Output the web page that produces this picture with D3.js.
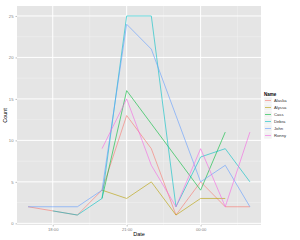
<!DOCTYPE html>
<html>
<head>
<meta charset="utf-8">
<script src="https://cdn.jsdelivr.net/npm/d3@7"></script>
<style>
  body { margin: 0; background: #fff; }
  svg { font-family: "Liberation Sans", Arial, sans-serif; }
</style>
</head>
<body>
<svg id="chart" width="300" height="240"></svg>
<script>
// hours are offsets from 2013-01-01 00:00 (17 = 17:00, 26 = 02:00 next day)
var names = ["Alaska", "Alyssa", "Cass", "Debra", "John", "Ronny"];
var colours = ["#F8766D", "#B79F00", "#00BA38", "#00BFC4", "#619CFF", "#F564E3"];

var alaskaHours = [17, 19, 20, 21, 22, 23, 24, 25, 26];
var alaskaCounts = [2, 1, 4, 13, 9, 1, 5, 2, 2];
var alyssaHours = [20, 21, 22, 23, 24, 25];
var alyssaCounts = [4, 3, 5, 1, 3, 3];
var cassHours = [20, 21, 22, 23, 24, 25];
var cassCounts = [3, 16, 12, 8, 4, 11];
var debraHours = [18, 19, 20, 21, 22, 23, 24, 25, 26];
var debraCounts = [1.5, 1, 3, 25, 25, 2, 8, 9, 5];
var johnHours = [17, 18, 19, 20, 21, 22, 23, 24, 25, 26];
var johnCounts = [2, 2, 2, 4, 24, 21, 13, 5, 7, 2];
var ronnyHours = [20, 21, 22, 23, 24, 25, 26];
var ronnyCounts = [9, 15, 7, 2, 9, 2, 11];

var yTicks = [0, 5, 10, 15, 20, 25];
var yMinor = [2.5, 7.5, 12.5, 17.5, 22.5];
var xTickHours = [18, 21, 24];
var xMinorHours = [19.5, 22.5, 25.5];

var hoursList = [alaskaHours, alyssaHours, cassHours, debraHours, johnHours, ronnyHours];
var countsList = [alaskaCounts, alyssaCounts, cassCounts, debraCounts, johnCounts, ronnyCounts];

function toDate(h) {
  return new Date(2013, 0, 1, 0, Math.round(h * 60));
}

var svg = d3.select("#chart");
var panel = { left: 17, right: 261, top: 6, bottom: 225 };

var xScale = d3.scaleTime()
  .domain([toDate(17 - 0.45), toDate(26 + 0.45)])
  .range([panel.left, panel.right]);
var yScale = d3.scaleLinear()
  .domain([-0.2, 26.2])
  .range([panel.bottom, panel.top]);

svg.append("rect")
  .attr("x", panel.left).attr("y", panel.top)
  .attr("width", panel.right - panel.left)
  .attr("height", panel.bottom - panel.top)
  .attr("fill", "#E5E5E5");

// minor grid
svg.append("g").selectAll("line").data(yMinor).enter().append("line")
  .attr("x1", panel.left).attr("x2", panel.right)
  .attr("y1", function (d) { return yScale(d); })
  .attr("y2", function (d) { return yScale(d); })
  .attr("stroke", "#F2F2F2").attr("stroke-width", 0.5);
svg.append("g").selectAll("line").data(xMinorHours).enter().append("line")
  .attr("y1", panel.top).attr("y2", panel.bottom)
  .attr("x1", function (d) { return xScale(toDate(d)); })
  .attr("x2", function (d) { return xScale(toDate(d)); })
  .attr("stroke", "#F2F2F2").attr("stroke-width", 0.5);

// major grid
svg.append("g").selectAll("line").data(yTicks).enter().append("line")
  .attr("x1", panel.left).attr("x2", panel.right)
  .attr("y1", function (d) { return yScale(d); })
  .attr("y2", function (d) { return yScale(d); })
  .attr("stroke", "#FFFFFF").attr("stroke-width", 1);
svg.append("g").selectAll("line").data(xTickHours).enter().append("line")
  .attr("y1", panel.top).attr("y2", panel.bottom)
  .attr("x1", function (d) { return xScale(toDate(d)); })
  .attr("x2", function (d) { return xScale(toDate(d)); })
  .attr("stroke", "#FFFFFF").attr("stroke-width", 1);

// axes
var yAxis = d3.axisLeft(yScale).tickValues(yTicks).tickSize(1.5).tickPadding(2);
var xAxis = d3.axisBottom(xScale)
  .tickValues(xTickHours.map(toDate))
  .tickFormat(d3.timeFormat("%H:%M"))
  .tickSize(1.5).tickPadding(1.5);

var gy = svg.append("g").attr("transform", "translate(" + panel.left + ",0)").call(yAxis);
var gx = svg.append("g").attr("transform", "translate(0," + panel.bottom + ")").call(xAxis);
[gy, gx].forEach(function (g) {
  g.select(".domain").remove();
  g.selectAll(".tick line").attr("stroke", "#7F7F7F").attr("stroke-width", 0.5);
  g.selectAll(".tick text").attr("fill", "#7F7F7F").attr("font-size", "4.2px");
});

svg.append("text")
  .attr("x", (panel.left + panel.right) / 2).attr("y", 236)
  .attr("text-anchor", "middle").attr("font-size", "5.5px").attr("fill", "#000")
  .text("Date");
svg.append("text")
  .attr("transform", "translate(7," + (panel.top + panel.bottom) / 2 + ") rotate(-90)")
  .attr("text-anchor", "middle").attr("font-size", "5.5px").attr("fill", "#000")
  .text("Count");

// lines
var line = d3.line()
  .x(function (d) { return xScale(toDate(d[0])); })
  .y(function (d) { return yScale(d[1]); });

names.forEach(function (name, i) {
  var pts = d3.zip(hoursList[i], countsList[i]);
  svg.append("path")
    .attr("d", line(pts))
    .attr("fill", "none")
    .attr("stroke", colours[i])
    .attr("stroke-opacity", 0.85)
    .attr("stroke-width", 0.7);
});

// legend
var legend = svg.append("g").attr("transform", "translate(264,0)");
legend.append("text")
  .attr("x", 0).attr("y", 95.5)
  .attr("font-size", "4.5px").attr("font-weight", "bold").attr("fill", "#000")
  .text("Name");
var items = legend.selectAll("g.item").data(names).enter().append("g")
  .attr("class", "item")
  .attr("transform", function (d, i) { return "translate(0," + (97 + i * 7) + ")"; });
items.append("rect")
  .attr("x", 0).attr("y", 0).attr("width", 8).attr("height", 7)
  .attr("fill", "#F2F2F2").attr("stroke", "#FFFFFF").attr("stroke-width", 0.5);
items.append("line")
  .attr("x1", 1).attr("x2", 7).attr("y1", 3.5).attr("y2", 3.5)
  .attr("stroke", function (d, i) { return colours[i]; })
  .attr("stroke-opacity", 0.85)
  .attr("stroke-width", 0.7);
items.append("text")
  .attr("x", 10).attr("y", 5)
  .attr("font-size", "4.2px").attr("fill", "#333")
  .text(function (d) { return d; });
</script>
</body>
</html>
